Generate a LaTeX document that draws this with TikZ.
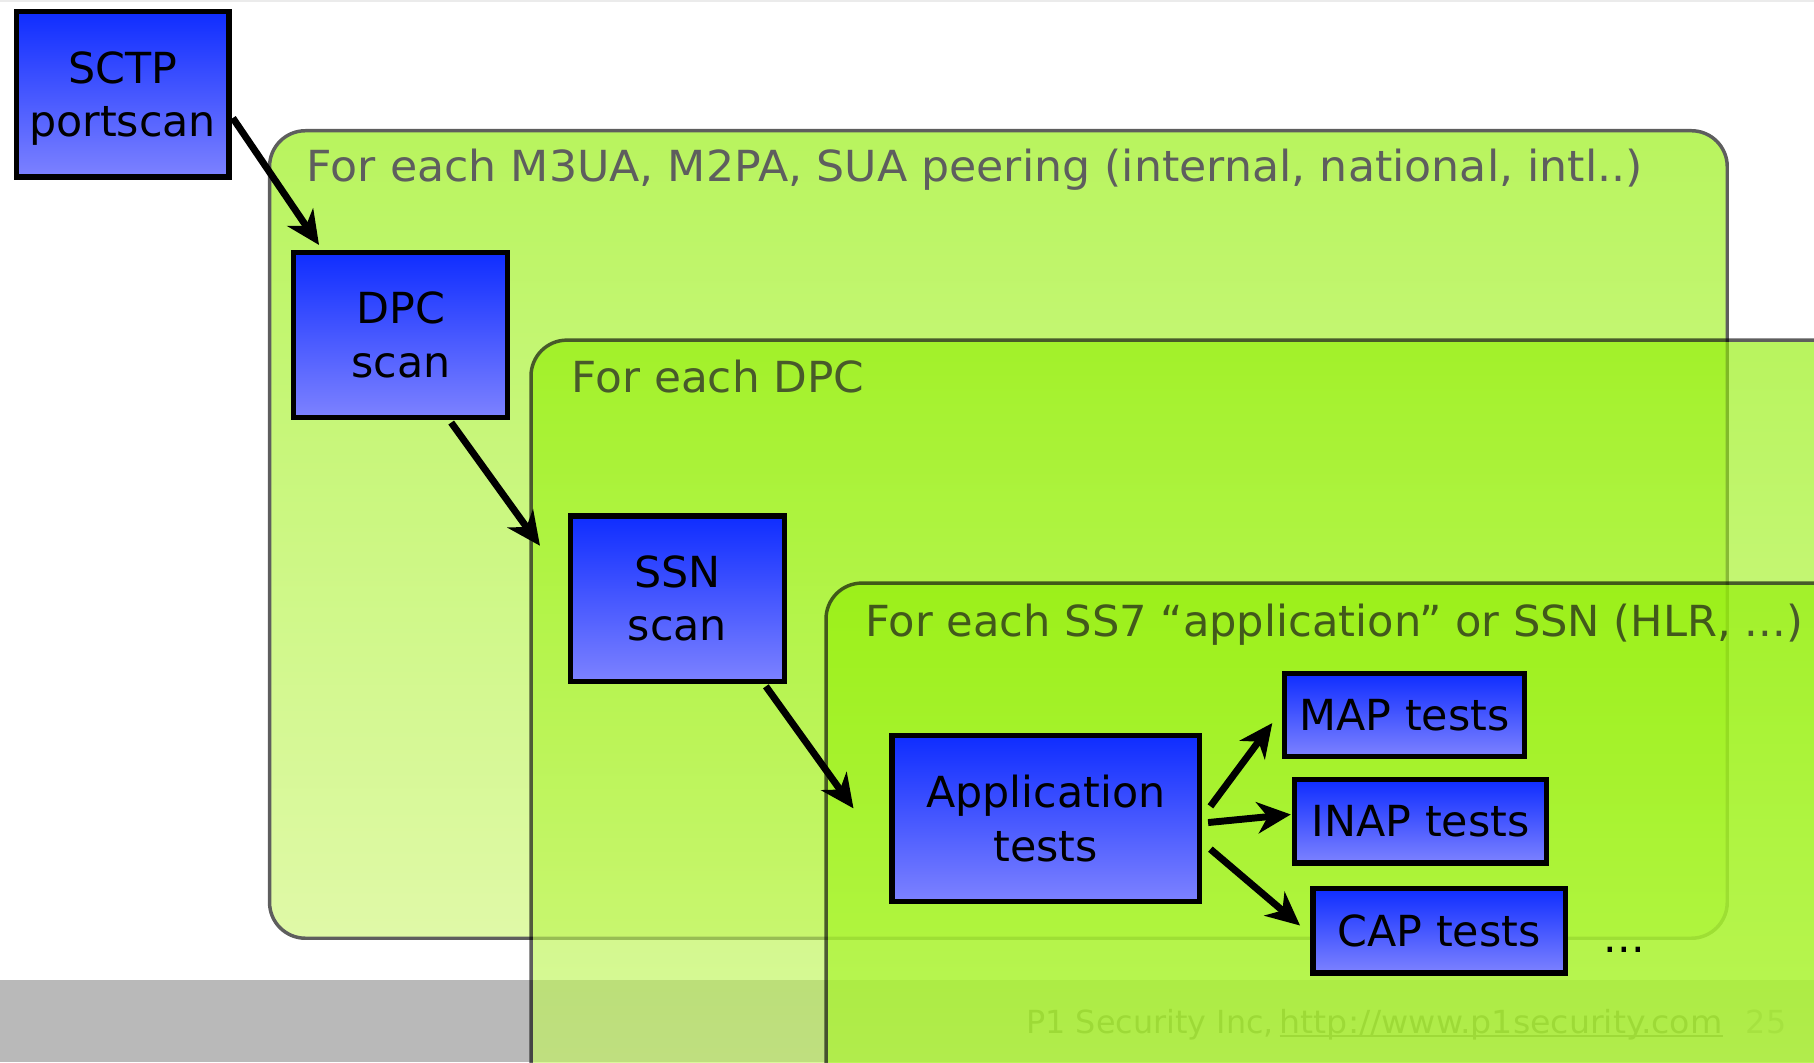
\documentclass[tikz,border=0pt]{standalone}
\usepackage{fontspec}
\setmainfont{DejaVu Sans}
\usetikzlibrary{arrows.meta}

\definecolor{limetop}{RGB}{144,239,1}
\definecolor{limebotA}{RGB}{206,247,117}
\definecolor{limebotB}{RGB}{199,247,101}
\definecolor{limebotC}{RGB}{172,245,52}
\definecolor{bluetop}{RGB}{15,45,255}
\definecolor{bluebot}{RGB}{125,130,255}
\definecolor{bandgray}{RGB}{185,185,185}

\tikzset{
  bluebox/.style={draw=black, line width=4.5pt, top color=bluetop, bottom color=bluebot,
    inner sep=0pt, align=center, font=\fontsize{37}{46}\selectfont},
  looptitle/.style={anchor=base west, inner sep=0pt, text=black,
    font=\fontsize{37}{44}\selectfont},
  loopframe/.style={draw=black, line width=3pt, rounded corners=31pt},
  loopgroup/.style={transparency group, opacity=0.63},
  flow/.style={line width=6pt, -{Stealth[length=29pt,width=27pt,inset=9pt]}},
  footfont/.style={anchor=base west, inner sep=0pt, font=\fontsize{27.5}{30}\selectfont},
}

\begin{document}
\begin{tikzpicture}[x=1pt,y=-1pt]
\useasboundingbox (0,0) rectangle (1568,918);
\fill[white] (0,0) rectangle (1568,918);
\draw[black!8, line width=2pt] (0,1) -- (1568,1);

% footer strip of the slide, lying under the loops
\fill[bandgray] (0,847) rectangle (1568,918);
\node[footfont, text=black!80] (credit) at (887,893) {P1 Security Inc,};
\node[footfont, text=black!80] (url) at (1106,893) {\scalebox{1.045}[1]{http://www.p1security.com}};
\draw[black!80, line width=1.6pt] ([yshift=-2.5pt]url.base west) -- ([yshift=-2.5pt]url.base east);
\node[footfont, text=black!55] (page) at (1509,893) {25};

% nested loops
\begin{scope}[loopgroup]
  \draw[loopframe, top color=limetop, bottom color=limebotA] (233,113) rectangle (1493,811);
  \node[looptitle] (peering) at (265,157) {\scalebox{1.034}[1]{For each M3UA, M2PA, SUA peering (internal, national, intl..)}};
\end{scope}
\begin{scope}[loopgroup]
  \draw[loopframe, top color=limetop, bottom color=limebotB] (459,294) rectangle (1650,960);
  \node[looptitle] (eachdpc) at (494,339) {\scalebox{1.024}[1]{For each DPC}};
\end{scope}
\begin{scope}[loopgroup]
  \draw[loopframe, top color=limetop, bottom color=limebotC] (714,504) rectangle (1650,960);
  \node[looptitle] (eachssn) at (748,550) {\scalebox{1.009}[1]{For each SS7 “application” or SSN (HLR, ...)}};
\end{scope}

% steps
\node[bluebox, minimum width=184pt, minimum height=143pt, text depth=0pt] (sctp) at (106,81.5) {SCTP\\portscan};
\node[bluebox, minimum width=185pt, minimum height=143pt] (dpc) at (346.5,289.5) {DPC\\scan};
\node[bluebox, minimum width=185pt, minimum height=143pt] (ssn) at (585.5,517.5) {SSN\\scan};
\node[bluebox, minimum width=266pt, minimum height=143pt] (app) at (904,707.5) {Application\\tests};
\node[bluebox, minimum width=208pt, minimum height=72pt] (map) at (1214,618) {MAP tests};
\node[bluebox, minimum width=218pt, minimum height=72pt] (inap) at (1228,710) {INAP tests};
\node[bluebox, minimum width=218pt, minimum height=73pt] (cap) at (1244,804.5) {CAP tests};
\node[anchor=base, inner sep=0pt, font=\fontsize{37}{44}\selectfont] (more) at (1404,823) {...};

% flow between the steps
\draw[flow] ([xshift=1pt,yshift=-20.5pt]sctp.east) -- ([xshift=24pt,yshift=4pt]dpc.north west);
\draw[flow] ([xshift=43.5pt,yshift=-2pt]dpc.south) -- ([xshift=-24pt,yshift=-28pt]ssn.north west);
\draw[flow] ([xshift=76.5pt,yshift=-2pt]ssn.south) -- ([xshift=-31pt,yshift=-65pt]app.north west);
\draw[flow] ([xshift=7pt,yshift=10.5pt]app.east) -- ([xshift=-8pt,yshift=-7pt]map.west);
\draw[flow] ([xshift=5pt,yshift=-3.5pt]app.east) -- ([xshift=-1pt,yshift=6pt]inap.west);
\draw[flow] ([xshift=7pt,yshift=-26.5pt]app.east) -- ([xshift=-9pt,yshift=4.5pt]cap.west);
\end{tikzpicture}
\end{document}
